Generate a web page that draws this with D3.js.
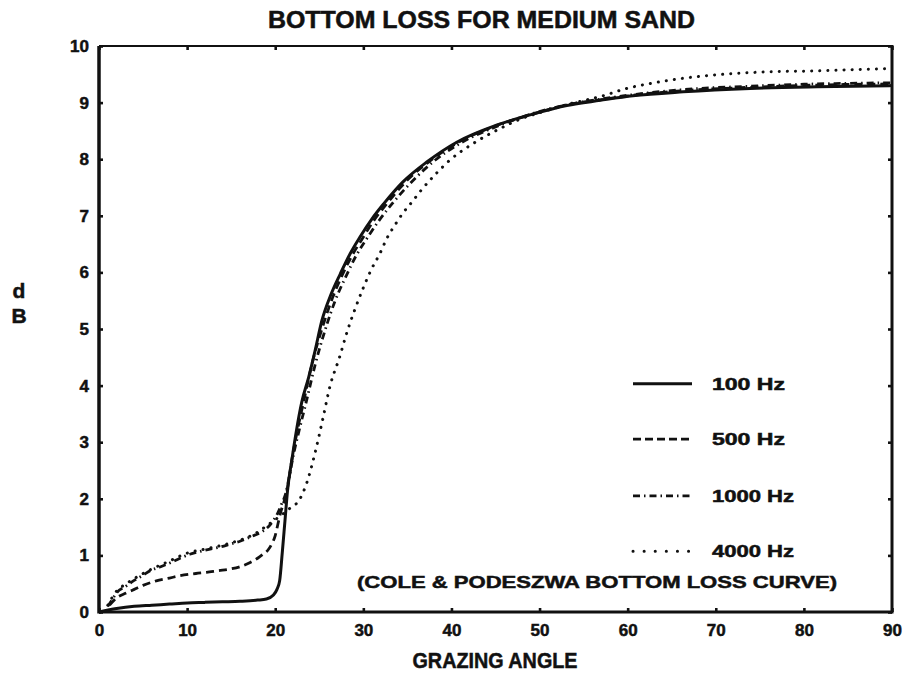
<!DOCTYPE html>
<html><head><meta charset="utf-8">
<script src="https://cdn.jsdelivr.net/npm/d3@7"></script>
<style>
html,body{margin:0;padding:0;background:#fff;}
svg{display:block;}
text{font-family:"Liberation Sans",Arial,sans-serif;font-weight:bold;fill:#111;stroke:#111;stroke-width:0.5;}
</style></head>
<body>
<svg id="c" width="904" height="677"></svg>
<script>
const title = "BOTTOM LOSS FOR MEDIUM SAND";
const xTitle = "GRAZING ANGLE";
const yTitle = ["d", "B"];
const note = "(COLE & PODESZWA BOTTOM LOSS CURVE)";
const xTicks = [0,10,20,30,40,50,60,70,80,90];
const yTicks = [0,1,2,3,4,5,6,7,8,9,10];
const seriesNames = ["100 Hz","500 Hz","1000 Hz","4000 Hz"];

// [grazing angle (deg), loss (dB)]
const hz100 = [[0,0],[2,0.06],[4,0.1],[6,0.12],[8,0.14],[10,0.16],[12,0.17],[14,0.18],[16,0.19],[18,0.21],[19,0.23],[19.8,0.3],[20.2,0.4],[20.5,0.55],[20.8,1.05],[21.1,1.6],[21.4,2.15],[21.9,2.7],[22.4,3.2],[23.0,3.7],[23.8,4.15],[24.5,4.6],[25.3,5.15],[26.3,5.6],[27.4,5.98],[28.5,6.33],[29.6,6.62],[31,6.95],[32.3,7.21],[34.5,7.6],[37.2,7.95],[40.6,8.3],[45.1,8.6],[49.3,8.8],[53.1,8.95],[56.9,9.04],[60.6,9.12],[66.3,9.19],[73.9,9.25],[81.5,9.28],[90,9.3]];
const hz500 = [[1.2,0.12],[2,0.25],[3,0.33],[4,0.4],[5,0.47],[6.5,0.55],[8,0.6],[9.2,0.64],[11,0.68],[12.2,0.7],[13.5,0.73],[14.9,0.76],[16,0.8],[17.1,0.87],[18,0.95],[18.6,1.02],[19.2,1.1],[19.6,1.2],[20.0,1.35],[20.3,1.55],[20.6,1.75],[21.0,1.95],[21.4,2.2],[21.9,2.7],[22.5,3.2],[23.2,3.7],[24.2,4.4],[25.5,5.1],[26.5,5.55],[27.6,5.95],[28.8,6.32],[29.9,6.6],[31.2,6.92],[32.6,7.2],[34.8,7.6],[37.4,7.95],[40.8,8.3],[45.2,8.6],[49.3,8.8],[53.1,8.96],[56.9,9.05],[60.6,9.13],[66.3,9.21],[73.9,9.27],[81.5,9.31],[90,9.33]];
const hz1000 = [[1.0,0.1],[1.5,0.22],[2,0.34],[3,0.45],[3.9,0.55],[5,0.65],[5.8,0.73],[7,0.8],[8.1,0.87],[9.2,0.95],[10.3,1.02],[11.5,1.07],[12.6,1.11],[13.8,1.15],[14.9,1.2],[16,1.25],[17.1,1.32],[18,1.38],[18.6,1.43],[19.3,1.52],[19.8,1.62],[20.3,1.75],[20.7,1.9],[21.2,2.1],[21.6,2.4],[22.1,2.8],[22.7,3.2],[23.5,3.7],[24.5,4.35],[25.8,5.05],[26.8,5.5],[28,5.92],[29.2,6.3],[30.4,6.6],[31.8,6.92],[33.2,7.2],[35.3,7.57],[37.9,7.95],[41.2,8.3],[45.5,8.6],[49.3,8.81],[53.1,8.96],[56.9,9.06],[60.6,9.14],[66.3,9.23],[73.9,9.29],[81.5,9.33],[90,9.35]];
const hz4000 = [[1.0,0.12],[2,0.37],[3,0.49],[4,0.59],[5,0.68],[6,0.76],[8,0.9],[10,1.04],[12,1.11],[14,1.18],[16,1.27],[17,1.33],[18,1.41],[19,1.52],[20,1.63],[21,1.75],[21.8,1.85],[22.6,1.95],[23.6,2.29],[24.5,2.8],[25.4,3.41],[26.2,3.98],[27.3,4.5],[28.2,4.97],[29.1,5.37],[30.0,5.73],[30.9,6.05],[31.9,6.34],[32.7,6.61],[33.6,6.84],[34.5,7.05],[35.5,7.24],[36.4,7.42],[38.1,7.72],[39.8,7.98],[42.6,8.29],[45.5,8.54],[48,8.72],[50,8.82],[53,8.96],[57.2,9.12],[59.9,9.25],[63,9.35],[66.3,9.43],[70,9.49],[73.9,9.53],[77.5,9.55],[81.5,9.56],[85,9.58],[90,9.6]];

const series = [hz100, hz500, hz1000, hz4000];
const dashes = [null, "8,5", "7,4,1.5,4", "0.1,8"];
const widths = [3, 2.8, 2.8, 3];
const legendDashes = [null, "8,4", "7,4,1.5,4", "0.1,11"];

const svg = d3.select("#c");
const x = d3.scaleLinear().domain([0,90]).range([99,892]);
const y = d3.scaleLinear().domain([0,10]).range([612,46]);

// frame
const g = svg.append("g");
g.append("line").attr("x1",x(0)).attr("x2",x(90)).attr("y1",y(10)).attr("y2",y(10)).attr("stroke","#111").attr("stroke-width",2);
g.append("line").attr("x1",x(0)).attr("x2",x(90)).attr("y1",y(0)).attr("y2",y(0)).attr("stroke","#111").attr("stroke-width",3);
g.append("line").attr("x1",x(0)).attr("x2",x(0)).attr("y1",y(10)).attr("y2",y(0)+1.5).attr("stroke","#111").attr("stroke-width",3.5);
g.append("line").attr("x1",x(90)).attr("x2",x(90)).attr("y1",y(10)-1).attr("y2",y(0)+1.5).attr("stroke","#111").attr("stroke-width",3);

// axes via d3 axis (inward ticks)
const xAxisB = d3.axisBottom(x).tickValues(xTicks).tickSize(-4).tickPadding(12).tickFormat(d3.format("d"));
const xAxisT = d3.axisTop(x).tickValues(xTicks).tickSize(-4).tickFormat("");
const yAxisL = d3.axisLeft(y).tickValues(yTicks).tickSize(-4).tickPadding(10).tickFormat(d3.format("d"));
const yAxisR = d3.axisRight(y).tickValues(yTicks).tickSize(-4).tickFormat("");
function styleAxis(sel){
  sel.select(".domain").remove();
  sel.selectAll(".tick line").attr("stroke","#111").attr("stroke-width",2.6);
  sel.selectAll(".tick text").attr("font-size",17).attr("font-family","Liberation Sans, Arial, sans-serif").attr("font-weight","bold").attr("fill","#111");
}
svg.append("g").attr("transform",`translate(0,${y(0)})`).call(xAxisB).call(styleAxis);
svg.append("g").attr("transform",`translate(0,${y(10)})`).call(xAxisT).call(styleAxis);
svg.append("g").attr("transform",`translate(${x(0)},0)`).call(yAxisL).call(styleAxis);
svg.append("g").attr("transform",`translate(${x(90)},0)`).call(yAxisR).call(styleAxis);

// curves
const line = d3.line().x(d=>x(d[0])).y(d=>y(d[1])).curve(d3.curveMonotoneX);
series.forEach((s,i)=>{
  svg.append("path").datum(s).attr("d",line).attr("fill","none").attr("stroke","#111")
    .attr("stroke-width",widths[i]).attr("stroke-linecap", i===3 ? "round":"butt")
    .attr("stroke-dasharray",dashes[i]);
});

// legend
const legY = [3.98, 3.0, 2.0, 1.02];
seriesNames.forEach((n,i)=>{
  const yy = y(legY[i]) - 3;
  svg.append("line").attr("x1",633).attr("x2",692).attr("y1",yy).attr("y2",yy)
    .attr("stroke","#111").attr("stroke-width",widths[i]).attr("stroke-linecap", i===3 ? "round":"butt")
    .attr("stroke-dasharray",legendDashes[i]);
  svg.append("text").attr("x",712).attr("y",yy+6).attr("font-size",16).text(n)
    .attr("textLength", n.length===7 ? 82 : 73).attr("lengthAdjust","spacingAndGlyphs");
});

// texts
svg.append("text").attr("x",481.5).attr("y",28).attr("text-anchor","middle").attr("font-size",23)
  .attr("textLength",427).attr("lengthAdjust","spacingAndGlyphs").text(title);
svg.append("text").attr("x",495).attr("y",668).attr("text-anchor","middle").attr("font-size",22)
  .attr("textLength",165).attr("lengthAdjust","spacingAndGlyphs").text(xTitle);
svg.append("text").attr("x",19).attr("y",298).attr("text-anchor","middle").attr("font-size",21).text(yTitle[0]);
svg.append("text").attr("x",19).attr("y",323).attr("text-anchor","middle").attr("font-size",21).text(yTitle[1]);
svg.append("text").attr("x",357).attr("y",588).attr("font-size",17)
  .attr("textLength",480).attr("lengthAdjust","spacingAndGlyphs").text(note);
</script>
</body></html>
